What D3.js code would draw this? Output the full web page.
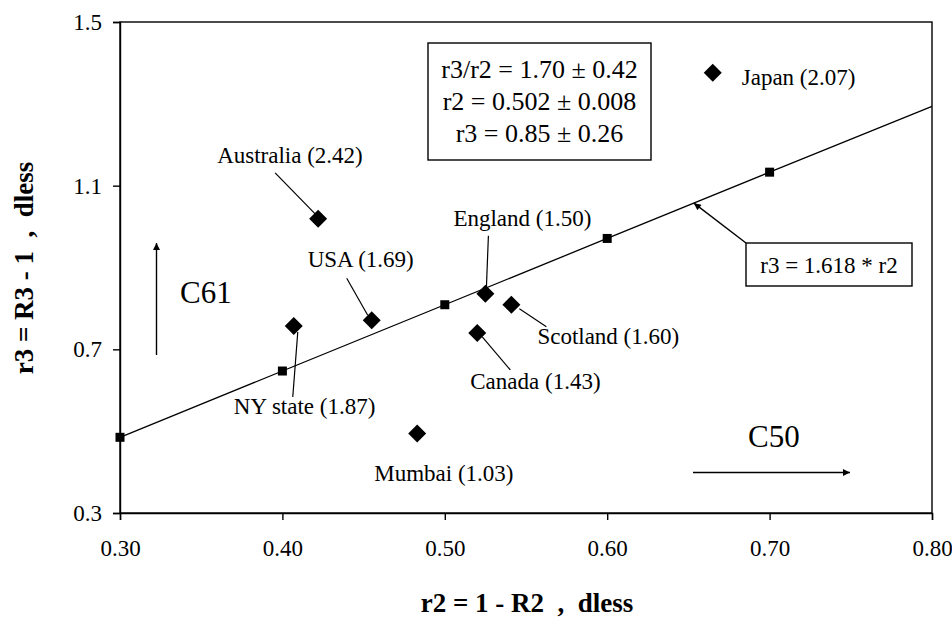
<!DOCTYPE html>
<html>
<head>
<meta charset="utf-8">
<script src="https://cdn.jsdelivr.net/npm/d3@7"></script>
<style>
  html, body { margin: 0; padding: 0; background: #fff; }
  svg { display: block; }
  svg text { font-family: "Liberation Serif", "Times New Roman", serif; }
</style>
</head>
<body>
<svg id="chart" width="952" height="619"></svg>
<script>
// Country points: r2 = 1 - R2, r3 = R3 - 1, ratio r3/r2 as labelled
const countries = ["Japan", "Australia", "England", "USA", "Scotland", "Canada", "NY state", "Mumbai"];
const r2Values  = [0.665, 0.422, 0.525, 0.455, 0.541, 0.520, 0.407, 0.483];
const r3Values  = [1.376, 1.019, 0.836, 0.771, 0.809, 0.740, 0.757, 0.494];
const ratios    = ["2.07", "2.42", "1.50", "1.69", "1.60", "1.43", "1.87", "1.03"];

// Golden-ratio reference line r3 = 1.618 * r2
const fitR2 = [0.30, 0.40, 0.50, 0.60, 0.70, 0.80];
const fitR3 = [0.485, 0.647, 0.809, 0.971, 1.133, 1.294];

// Axis ticks
const xTicks = [0.30, 0.40, 0.50, 0.60, 0.70, 0.80];
const yTicks = [0.3, 0.7, 1.1, 1.5];

// Summary statistics box
const statLines = ["r3/r2 = 1.70 \u00b1 0.42", "r2 = 0.502 \u00b1 0.008", "r3 = 0.85 \u00b1 0.26"];
const fitLabel = "r3 = 1.618 * r2";
const fitArrowR2 = 0.6534;

const FONT = "'Liberation Serif', 'Times New Roman', serif";
const svg = d3.select("#chart");
const plot = { left: 120, top: 22, right: 932, bottom: 513 };

const x = d3.scaleLinear().domain([0.3, 0.8]).range([plot.left, plot.right]);
const y = d3.scaleLinear().domain([0.3, 1.5]).range([plot.bottom, plot.top]);

// Arrowhead marker
svg.append("defs").append("marker")
  .attr("id", "arrowhead")
  .attr("viewBox", "0 0 10 10")
  .attr("refX", 10).attr("refY", 5)
  .attr("markerWidth", 10).attr("markerHeight", 7)
  .attr("markerUnits", "userSpaceOnUse")
  .attr("orient", "auto")
  .append("path").attr("d", "M0,0 L10,5 L0,10 Z").attr("fill", "#000");

// Plot frame
svg.append("rect")
  .attr("x", plot.left).attr("y", plot.top)
  .attr("width", plot.right - plot.left).attr("height", plot.bottom - plot.top)
  .attr("fill", "none").attr("stroke", "#000").attr("stroke-width", 1.4);

// Axes
const xAxis = svg.append("g")
  .attr("transform", `translate(0,${plot.bottom})`)
  .call(d3.axisBottom(x).tickValues(xTicks).tickFormat(d3.format(".2f")).tickSizeOuter(0).tickSize(7).tickPadding(20));
const yAxis = svg.append("g")
  .attr("transform", `translate(${plot.left},0)`)
  .call(d3.axisLeft(y).tickValues(yTicks).tickFormat(d3.format(".1f")).tickSizeOuter(0).tickSize(7).tickPadding(11));
[xAxis, yAxis].forEach(g => {
  g.attr("font-family", FONT);
  g.select(".domain").attr("stroke", "#000").attr("stroke-width", 1.4);
  g.selectAll(".tick line").attr("stroke", "#000").attr("stroke-width", 1.4);
  g.selectAll(".tick text")
    .attr("font-family", FONT)
    .attr("font-size", 23).attr("fill", "#000");
});
xAxis.selectAll(".tick text").attr("dy", "0.71em");

// Axis titles
svg.append("text")
  .attr("x", (plot.left + plot.right) / 2 + 1).attr("y", 612)
  .attr("text-anchor", "middle")
  .attr("font-family", FONT)
  .attr("font-size", 27).attr("font-weight", "bold")
  .attr("xml:space", "preserve")
  .text("r2 = 1 - R2  ,  dless");
svg.append("text")
  .attr("transform", "translate(33,268) rotate(-90)")
  .attr("text-anchor", "middle")
  .attr("font-family", FONT)
  .attr("font-size", 27).attr("font-weight", "bold")
  .attr("xml:space", "preserve")
  .text("r3 = R3 - 1  ,  dless");

// Reference line and its square markers
const fitPts = fitR2.map((d, i) => [d, fitR3[i]]);
svg.append("path")
  .datum(fitPts)
  .attr("d", d3.line().x(d => x(d[0])).y(d => y(d[1])))
  .attr("fill", "none").attr("stroke", "#000").attr("stroke-width", 1.3);
svg.selectAll(".fitmark")
  .data(fitPts.filter(d => d[0] < 0.8))
  .join("rect")
  .attr("class", "fitmark")
  .attr("x", d => x(d[0]) - 4.5).attr("y", d => y(d[1]) - 4.5)
  .attr("width", 9).attr("height", 9).attr("fill", "#000");

// Label placement (pixel offsets from each point) and leader lines
const labelLayout = {
  "Japan":     { tx: 29,  ty: 12,  lead: null },
  "Australia": { tx: -101, ty: -56, lead: [-43, -46, -3, -5] },
  "England":   { tx: -32, ty: -68, lead: [3, -58, 1, -6] },
  "USA":       { tx: -64, ty: -53, lead: [-25, -42, -4, -5] },
  "Scotland":  { tx: 26,  ty: 39,  lead: [8, 4, 35, 22] },
  "Canada":    { tx: -7,  ty: 56,  lead: [5, 4, 33, 37] },
  "NY state":  { tx: -60, ty: 88,  lead: [4, 6, -1, 71] },
  "Mumbai":    { tx: -43, ty: 47,  lead: null }
};

const pts = countries.map((c, i) => ({ name: c, r2: r2Values[i], r3: r3Values[i], ratio: ratios[i] }));

svg.selectAll(".leader")
  .data(pts.filter(d => labelLayout[d.name].lead))
  .join("line")
  .attr("class", "leader")
  .attr("x1", d => x(d.r2) + labelLayout[d.name].lead[0])
  .attr("y1", d => y(d.r3) + labelLayout[d.name].lead[1])
  .attr("x2", d => x(d.r2) + labelLayout[d.name].lead[2])
  .attr("y2", d => y(d.r3) + labelLayout[d.name].lead[3])
  .attr("stroke", "#000").attr("stroke-width", 1.2);

const diamond = "M0,-9 L9,0 L0,9 L-9,0 Z";
svg.selectAll(".pt")
  .data(pts)
  .join("path")
  .attr("class", "pt")
  .attr("d", diamond)
  .attr("transform", d => `translate(${x(d.r2)},${y(d.r3)})`)
  .attr("fill", "#000");

svg.selectAll(".plabel")
  .data(pts)
  .join("text")
  .attr("class", "plabel")
  .attr("x", d => x(d.r2) + labelLayout[d.name].tx)
  .attr("y", d => y(d.r3) + labelLayout[d.name].ty)
  .attr("font-family", FONT)
  .attr("font-size", 23).attr("fill", "#000")
  .text(d => `${d.name} (${d.ratio})`);

// Statistics box
const stats = svg.append("g");
stats.append("rect")
  .attr("x", 428).attr("y", 43).attr("width", 223).attr("height", 117)
  .attr("fill", "#fff").attr("stroke", "#000").attr("stroke-width", 1.4);
stats.selectAll("text")
  .data(statLines)
  .join("text")
  .attr("x", 539.5).attr("y", (d, i) => 78 + i * 32)
  .attr("text-anchor", "middle")
  .attr("font-family", FONT).attr("font-size", 26)
  .text(d => d);

// Label box for the reference line with arrow pointing at it
const fbx = 746, fby = 243;
svg.append("line")
  .attr("x1", fbx).attr("y1", fby)
  .attr("x2", x(fitArrowR2)).attr("y2", y(1.618 * fitArrowR2))
  .attr("stroke", "#000").attr("stroke-width", 1.4)
  .attr("marker-end", "url(#arrowhead)");
svg.append("rect")
  .attr("x", fbx).attr("y", fby).attr("width", 166).attr("height", 43)
  .attr("fill", "#fff").attr("stroke", "#000").attr("stroke-width", 1.4);
svg.append("text")
  .attr("x", fbx + 83).attr("y", fby + 30)
  .attr("text-anchor", "middle")
  .attr("font-family", FONT).attr("font-size", 23)
  .text(fitLabel);

// Direction annotations
svg.append("line")
  .attr("x1", 156.5).attr("y1", 355).attr("x2", 156.5).attr("y2", 243)
  .attr("stroke", "#000").attr("stroke-width", 1.4)
  .attr("marker-end", "url(#arrowhead)");
svg.append("text")
  .attr("x", 180).attr("y", 303)
  .attr("font-family", FONT).attr("font-size", 31).text("C61");

svg.append("line")
  .attr("x1", 693).attr("y1", 472.5).attr("x2", 850).attr("y2", 472.5)
  .attr("stroke", "#000").attr("stroke-width", 1.4)
  .attr("marker-end", "url(#arrowhead)");
svg.append("text")
  .attr("x", 748).attr("y", 447)
  .attr("font-family", FONT).attr("font-size", 31).text("C50");
</script>
</body>
</html>
